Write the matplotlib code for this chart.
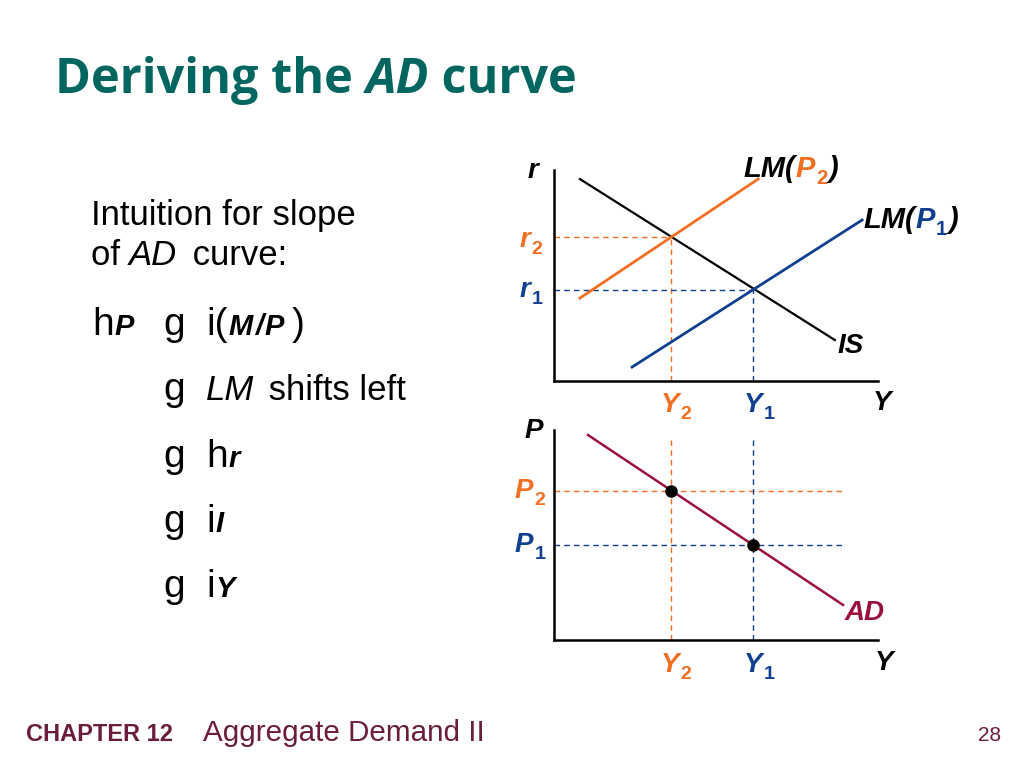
# Deriving the AD curve: IS-LM panel above, AD panel below
import matplotlib.pyplot as plt

W, H = 1024, 768
ORANGE = '#f26f21'
BLUE = '#0f3f8f'
CRIMSON = '#9a0f40'
TEAL = '#00665f'
MAROON = '#6b1d3d'

# IS-LM panel (Y on x-axis, r on y-axis, arbitrary units 0-10)
is_x = [0.80, 8.67]
is_y = [9.57, 1.94]
lm2_x = [0.80, 6.30]
lm2_y = [3.93, 9.57]
lm1_x = [2.41, 9.51]
lm1_y = [0.66, 7.63]
Y2, Y1 = 3.61, 6.14
r2, r1 = 6.82, 4.31

# AD panel
ad_x = [1.05, 8.92]
ad_y = [9.76, 1.67]
P2, P1 = 7.10, 4.52
guide_end = 8.92
guide_top = 9.67

fig = plt.figure(figsize=(W / 100, H / 100), dpi=100)
fig.patch.set_facecolor('white')
renderer = fig.canvas.get_renderer()


def axes_px(left, top, right, bottom):
    ax = fig.add_axes([left / W, 1 - bottom / H, (right - left) / W, (bottom - top) / H])
    ax.set_xlim(0, 10)
    ax.set_ylim(0, 10)
    ax.set_xticks([])
    ax.set_yticks([])
    for s in ['top', 'right']:
        ax.spines[s].set_visible(False)
    for s in ['left', 'bottom']:
        ax.spines[s].set_linewidth(1.8)
    ax.patch.set_alpha(0)
    return ax


def run(x, y, pieces, family='Liberation Sans'):
    # pieces: (text, size, style, color, gap_px, dy_px), placed one after another
    for s, size, style, color, gap, dy in pieces:
        t = fig.text((x + gap) / W, 1 - (y + dy) / H, s, fontsize=size, family=family,
                     fontweight='bold' if 'b' in style else 'normal',
                     fontstyle='italic' if 'i' in style else 'normal',
                     color=color, ha='left', va='baseline')
        x = t.get_window_extent(renderer).x1
    return x


def lab(x, y, parts, size=20):
    pieces = []
    for s, c, sub in parts:
        if sub:
            pieces.append((s, size * 0.7, 'b', c, 1, 7))
        else:
            pieces.append((s, size, 'bi', c, 1, 0))
    run(x, y, pieces)


dash = (0, (4, 3))

# ---- top panel ----
ax1 = axes_px(554, 170, 878, 381)
ax1.plot([0, Y2], [r2, r2], color=ORANGE, lw=1, ls=dash)
ax1.plot([Y2, Y2], [0, r2], color=ORANGE, lw=1, ls=dash)
ax1.plot([0, Y1], [r1, r1], color=BLUE, lw=1, ls=dash)
ax1.plot([Y1, Y1], [0, r1], color=BLUE, lw=1, ls=dash)
ax1.plot(is_x, is_y, color='black', lw=1.6)
ax1.plot(lm2_x, lm2_y, color=ORANGE, lw=2)
ax1.plot(lm1_x, lm1_y, color=BLUE, lw=2)

# ---- bottom panel ----
ax2 = axes_px(554, 430, 878, 640)
ax2.plot([0, guide_end], [P2, P2], color=ORANGE, lw=1, ls=dash)
ax2.plot([Y2, Y2], [0, guide_top], color=ORANGE, lw=1, ls=dash)
ax2.plot([0, guide_end], [P1, P1], color=BLUE, lw=1, ls=dash)
ax2.plot([Y1, Y1], [0, guide_top], color=BLUE, lw=1, ls=dash)
ax2.plot(ad_x, ad_y, color=CRIMSON, lw=1.8)
ax2.plot([Y2, Y1], [P2, P1], 'o', color='black', ms=8, zorder=5)

# panel labels
lab(527, 178, [('r', 'black', False)])
lab(519, 247, [('r', ORANGE, False), ('2', ORANGE, True)])
lab(519, 297, [('r', BLUE, False), ('1', BLUE, True)])
lab(742, 177, [('LM(', 'black', False), ('P', ORANGE, False), ('2', ORANGE, True), (')', 'black', False)], size=21)
lab(862, 228, [('LM(', 'black', False), ('P', BLUE, False), ('1', BLUE, True), (')', 'black', False)], size=21)
lab(837, 353, [('IS', 'black', False)])
lab(660, 412, [('Y', ORANGE, False), ('2', ORANGE, True)])
lab(743, 412, [('Y', BLUE, False), ('1', BLUE, True)])
lab(872, 410, [('Y', 'black', False)])

lab(524, 438, [('P', 'black', False)])
lab(514, 498, [('P', ORANGE, False), ('2', ORANGE, True)])
lab(514, 552, [('P', BLUE, False), ('1', BLUE, True)])
lab(844, 620, [('AD', CRIMSON, False)])
lab(660, 672, [('Y', ORANGE, False), ('2', ORANGE, True)])
lab(743, 672, [('Y', BLUE, False), ('1', BLUE, True)])
lab(874, 670, [('Y', 'black', False)])

# ---- title ----
run(55, 93, [('Deriving the ', 35, 'b', TEAL, 0, 0),
             ('AD', 35, 'bi', TEAL, 0, 0),
             (' curve', 35, 'b', TEAL, 0, 0)], family='Open Sans')

# ---- left text ----
k = 'black'
run(91, 225, [('Intuition for slope', 25, '', k, 0, 0)])
run(91, 265, [('of ', 25, '', k, 0, 0), ('AD', 25, 'i', k, -1, 0), (' curve:', 25, '', k, 6, 0)])

run(92, 335, [('h', 28, '', k, 0, 0), ('P', 21, 'bi', k, 1, 0)])
run(163, 335, [('g', 28, '', k, 0, 0)])
run(206, 335, [('i(', 28, '', k, 0, 0), ('M', 21, 'bi', k, 1, 0), ('/', 21, 'bi', k, 2, 0),
               ('P', 21, 'bi', k, 2, 0), (')', 28, '', k, 7, 0)])

run(163, 400, [('g', 28, '', k, 0, 0)])
run(206, 400, [('LM', 25, 'i', k, 0, 0), (' shifts left', 25, '', k, 5, 0)])

run(163, 467, [('g', 28, '', k, 0, 0)])
run(206, 467, [('h', 28, '', k, 0, 0), ('r', 21, 'bi', k, 1, 0)])

run(163, 532, [('g', 28, '', k, 0, 0)])
run(206, 532, [('i', 28, '', k, 0, 0), ('I', 21, 'bi', k, 1, 0)])

run(163, 597, [('g', 28, '', k, 0, 0)])
run(206, 597, [('i', 28, '', k, 0, 0), ('Y', 21, 'bi', k, 1, 0)])

# ---- footer ----
run(26, 741, [('CHAPTER 12', 17, 'b', MAROON, 0, 0)])
run(203, 741, [('Aggregate Demand II', 21.3, '', MAROON, 0, 0)])
run(978, 741, [('28', 15, '', MAROON, 0, 0)])

fig.savefig('out.png', dpi=100)
